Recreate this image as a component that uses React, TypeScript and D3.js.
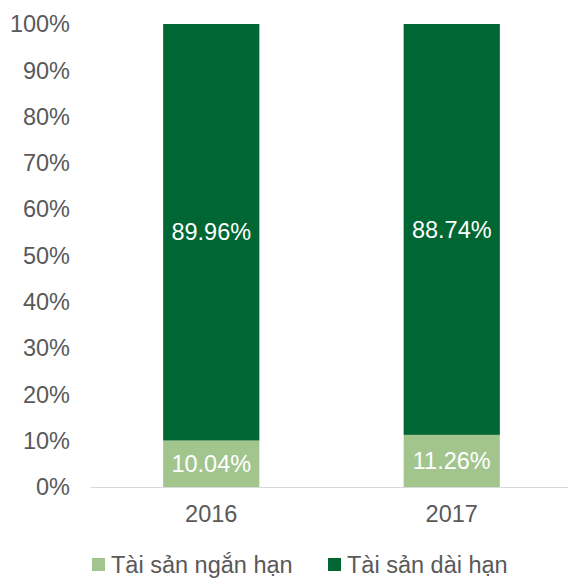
import React from "react";
import * as d3 from "d3";

const categories = ["2016", "2017"];
const shortTerm = [10.04, 11.26];
const longTerm = [89.96, 88.74];
const seriesNames = ["Tài sản ngắn hạn", "Tài sản dài hạn"];
const yTicks = [0, 10, 20, 30, 40, 50, 60, 70, 80, 90, 100];

const W = 568;
const H = 578;
const COLORS = ["#A2C58E", "#006633"];
const FONT = "'Liberation Sans', Arial, sans-serif";
const FS = 23.5;

export default function App() {
  const x = d3.scaleBand().domain(categories).range([91, 572]).paddingInner(0.6).paddingOuter(0.3);
  const y = d3.scaleLinear().domain([0, 100]).range([487, 24]);
  const bw = x.bandwidth();

  return (
    <svg width={W} height={H} style={{ position: "absolute", left: 0, top: 0, fontFamily: FONT }}>
      <rect width={W} height={H} fill="#fff" />
      {yTicks.map((t) => (
        <text key={t} x={70} y={y(t)} dy="0.35em" textAnchor="end" fontSize={FS} fill="#595959">
          {t}%
        </text>
      ))}
      {categories.map((c, i) => {
        const x0 = x(c)!;
        const s = shortTerm[i];
        const l = longTerm[i];
        return (
          <g key={c}>
            <rect x={x0} y={y(s)} width={bw} height={y(0) - y(s)} fill={COLORS[0]} />
            <rect x={x0} y={y(s + l)} width={bw} height={y(s) - y(s + l)} fill={COLORS[1]} />
            <text x={x0 + bw / 2} y={(y(0) + y(s)) / 2} dy="0.35em" textAnchor="middle" fontSize={FS} fill="#fff">
              {s.toFixed(2)}%
            </text>
            <text x={x0 + bw / 2} y={(y(s) + y(s + l)) / 2} dy="0.35em" textAnchor="middle" fontSize={FS} fill="#fff">
              {l.toFixed(2)}%
            </text>
            <text x={x0 + bw / 2} y={514} dy="0.35em" textAnchor="middle" fontSize={FS} fill="#595959">
              {c}
            </text>
          </g>
        );
      })}
      <line x1={91} x2={W} y1={y(0) + 0.5} y2={y(0) + 0.5} stroke="#D9D9D9" strokeWidth={1} />
      <g>
        <rect x={92} y={558} width={13} height={13} fill={COLORS[0]} />
        <text x={111} y={565} dy="0.35em" fontSize={FS} fill="#595959">{seriesNames[0]}</text>
        <rect x={328} y={558} width={13} height={13} fill={COLORS[1]} />
        <text x={347} y={565} dy="0.35em" fontSize={FS} fill="#595959">{seriesNames[1]}</text>
      </g>
    </svg>
  );
}
